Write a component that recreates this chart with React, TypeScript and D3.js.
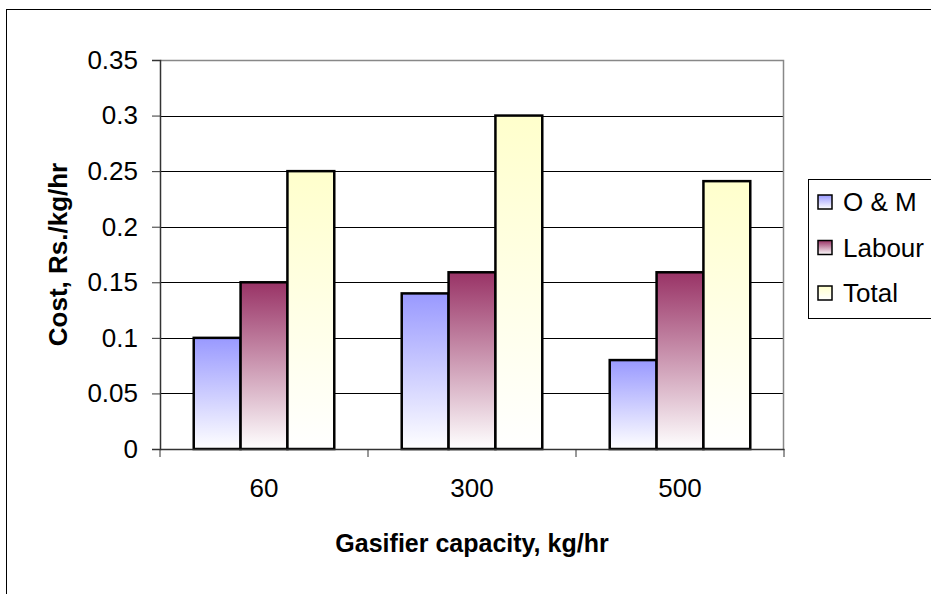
import React, { useEffect, useRef } from 'react';
import * as d3 from 'd3';

const categories = ['60', '300', '500'];
const seriesNames = ['O & M', 'Labour', 'Total'];
const omValues = [0.1, 0.14, 0.08];
const labourValues = [0.15, 0.159, 0.159];
const totalValues = [0.25, 0.3, 0.241];
const yTicks = [0, 0.05, 0.1, 0.15, 0.2, 0.25, 0.3, 0.35];
const seriesColors = ['#9999FF', '#993366', '#FFFFCC'];

const App = () => {
  const ref = useRef<SVGSVGElement>(null);

  useEffect(() => {
    const width = 931;
    const height = 594;
    const margin = { top: 60, right: 147, bottom: 145, left: 160 };
    const chartWidth = width - margin.left - margin.right;
    const chartHeight = height - margin.top - margin.bottom;
    const font = '"Liberation Sans", Arial, sans-serif';
    const fs = 26;

    const svg = d3.select(ref.current);
    svg.selectAll('*').remove();

    const defs = svg.append('defs');
    seriesColors.forEach((c, i) => {
      const g = defs
        .append('linearGradient')
        .attr('id', `grad${i}`)
        .attr('x1', 0)
        .attr('y1', 0)
        .attr('x2', 0)
        .attr('y2', 1);
      g.append('stop').attr('offset', '0%').attr('stop-color', c);
      g.append('stop').attr('offset', '100%').attr('stop-color', '#ffffff');
    });

    svg.append('rect').attr('width', width).attr('height', height).attr('fill', '#fff');
    // outer chart border, runs off the picture
    svg
      .append('rect')
      .attr('x', 6.5)
      .attr('y', 9.5)
      .attr('width', 1000)
      .attr('height', 700)
      .attr('fill', 'none')
      .attr('stroke', '#000');

    const chart = svg.append('g').attr('transform', `translate(${margin.left},${margin.top})`);

    const x0 = d3.scaleBand().domain(categories).range([0, chartWidth]);
    const x1 = d3
      .scaleBand()
      .domain(seriesNames)
      .range([0, x0.bandwidth()])
      .paddingInner(0)
      .paddingOuter(0.72);
    const y = d3.scaleLinear().domain([0, 0.35]).range([chartHeight, 0]);

    // gridlines
    chart
      .selectAll('.grid')
      .data(yTicks.filter((t) => t > 0 && t < 0.35))
      .enter()
      .append('line')
      .attr('x1', 0)
      .attr('x2', chartWidth)
      .attr('y1', (d) => Math.round(y(d)) + 0.5)
      .attr('y2', (d) => Math.round(y(d)) + 0.5)
      .attr('stroke', '#000');

    // plot area border
    chart
      .append('path')
      .attr('d', `M0.5,0.5H${chartWidth - 0.5}V${chartHeight}`)
      .attr('fill', 'none')
      .attr('stroke', '#888')
      .attr('stroke-width', 1.5);

    const data = categories.map((c, i) => ({
      cat: c,
      vals: [omValues[i], labourValues[i], totalValues[i]],
    }));

    const groups = chart
      .selectAll('.grp')
      .data(data)
      .enter()
      .append('g')
      .attr('transform', (d) => `translate(${x0(d.cat)},0)`);

    groups
      .selectAll('rect')
      .data((d) => d.vals.map((v, i) => ({ name: seriesNames[i], v, i })))
      .enter()
      .append('rect')
      .attr('x', (d) => x1(d.name)!)
      .attr('y', (d) => y(d.v))
      .attr('width', x1.bandwidth())
      .attr('height', (d) => chartHeight - y(d.v))
      .attr('fill', (d) => `url(#grad${d.i})`)
      .attr('stroke', '#000')
      .attr('stroke-width', 2.5);

    // y axis
    const yAxis = chart
      .append('g')
      .call(
        d3
          .axisLeft(y)
          .tickValues(yTicks)
          .tickSize(8)
          .tickPadding(14)
          .tickFormat((d) => `${+d}`)
      );
    yAxis.select('.domain').attr('stroke', '#333').attr('stroke-width', 1.5);
    yAxis.selectAll('.tick line').attr('stroke', '#333');
    yAxis
      .selectAll('text')
      .attr('font-family', font)
      .attr('font-size', fs)
      .attr('fill', '#000');

    // x axis
    const xAxis = chart
      .append('g')
      .attr('transform', `translate(0,${chartHeight})`)
      .call(d3.axisBottom(x0).tickSize(0).tickPadding(30));
    xAxis.select('.domain').attr('stroke', '#333').attr('stroke-width', 1.5);
    xAxis
      .selectAll('text')
      .attr('font-family', font)
      .attr('font-size', fs)
      .attr('fill', '#000');
    xAxis
      .selectAll('.sep')
      .data([0, ...categories.map((c) => x0(c)! + x0.bandwidth())])
      .enter()
      .append('line')
      .attr('x1', (d) => d)
      .attr('x2', (d) => d)
      .attr('y1', 0)
      .attr('y2', 8)
      .attr('stroke', '#333');

    // axis titles
    svg
      .append('text')
      .attr('x', margin.left + chartWidth / 2)
      .attr('y', 552)
      .attr('text-anchor', 'middle')
      .attr('font-family', font)
      .attr('font-weight', 'bold')
      .attr('font-size', 25)
      .text('Gasifier capacity, kg/hr');

    svg
      .append('text')
      .attr('transform', `translate(67,${margin.top + chartHeight / 2}) rotate(-90)`)
      .attr('text-anchor', 'middle')
      .attr('font-family', font)
      .attr('font-weight', 'bold')
      .attr('font-size', 26)
      .text('Cost, Rs./kg/hr');

    // legend
    const legend = svg.append('g').attr('transform', 'translate(808,179)');
    legend
      .append('rect')
      .attr('x', 0.5)
      .attr('y', 0.5)
      .attr('width', 200)
      .attr('height', 139)
      .attr('fill', '#fff')
      .attr('stroke', '#000');
    const items = legend
      .selectAll('.item')
      .data(seriesNames)
      .enter()
      .append('g')
      .attr('transform', (d, i) => `translate(0,${23 + i * 45.5})`);
    items
      .append('rect')
      .attr('x', 10)
      .attr('y', -7)
      .attr('width', 14)
      .attr('height', 14)
      .attr('fill', (d, i) => `url(#grad${i})`)
      .attr('stroke', '#000')
      .attr('stroke-width', 1.5);
    items
      .append('text')
      .attr('x', 35)
      .attr('dy', '0.36em')
      .attr('font-family', font)
      .attr('font-size', fs)
      .text((d) => d);
  }, []);

  return (
    <svg
      ref={ref}
      width={931}
      height={594}
      style={{ position: 'absolute', left: 0, top: 0 }}
    />
  );
};

export default App;
